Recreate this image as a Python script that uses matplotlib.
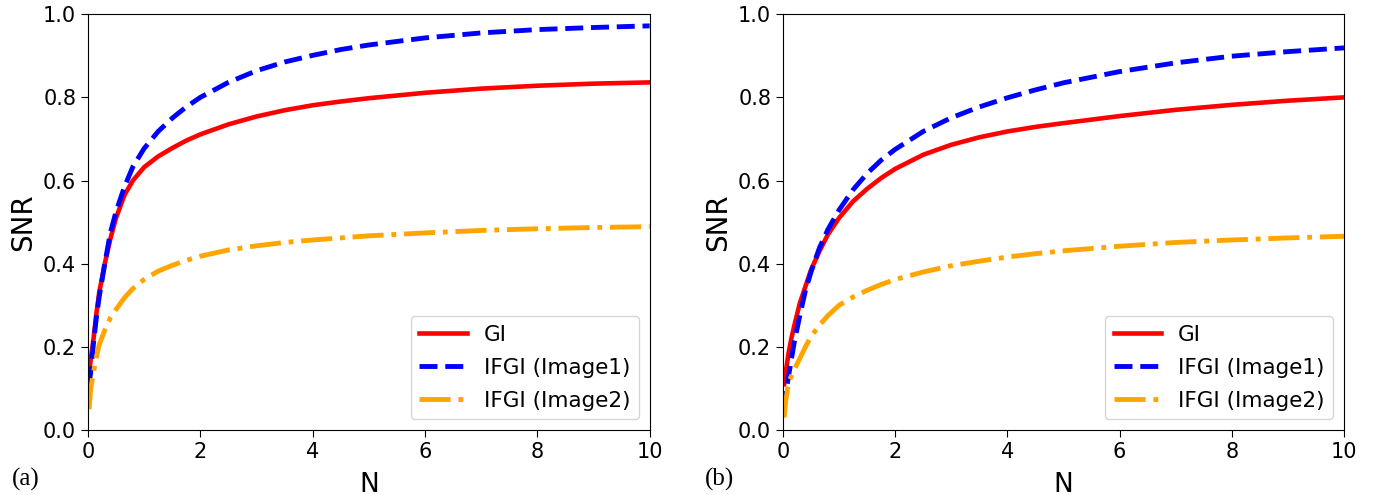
import matplotlib
matplotlib.use("Agg")
import matplotlib.pyplot as plt

# N grid
N = [0.02, 0.05, 0.1, 0.15, 0.2, 0.3, 0.4, 0.5, 0.65, 0.8, 1.0, 1.25, 1.5, 1.75,
     2.0, 2.5, 3.0, 3.5, 4.0, 4.5, 5.0, 6.0, 7.0, 8.0, 9.0, 10.0]

# panel (a)
a_gi = [0.14, 0.17, 0.22, 0.28, 0.33, 0.40, 0.46, 0.51, 0.565, 0.60, 0.632, 0.658, 0.678, 0.696,
        0.711, 0.735, 0.754, 0.769, 0.781, 0.790, 0.798, 0.811, 0.821, 0.828, 0.833, 0.836]
a_ifgi1 = [0.11, 0.14, 0.21, 0.27, 0.32, 0.40, 0.475, 0.525, 0.585, 0.633, 0.677, 0.718, 0.75, 0.777,
           0.800, 0.836, 0.864, 0.885, 0.901, 0.915, 0.926, 0.943, 0.955, 0.963, 0.968, 0.972]
a_ifgi2 = [0.05, 0.10, 0.14, 0.175, 0.205, 0.24, 0.27, 0.29, 0.318, 0.34, 0.362, 0.382, 0.396, 0.408,
           0.418, 0.433, 0.443, 0.451, 0.457, 0.462, 0.467, 0.474, 0.480, 0.484, 0.487, 0.489]

# panel (b)
b_gi = [0.11, 0.14, 0.185, 0.22, 0.25, 0.305, 0.345, 0.385, 0.43, 0.47, 0.51, 0.55, 0.58, 0.606,
        0.628, 0.662, 0.686, 0.704, 0.718, 0.729, 0.738, 0.755, 0.770, 0.782, 0.792, 0.800]
b_ifgi1 = [0.05, 0.09, 0.13, 0.17, 0.21, 0.275, 0.335, 0.38, 0.438, 0.482, 0.529, 0.578, 0.617, 0.649,
           0.675, 0.718, 0.751, 0.777, 0.799, 0.818, 0.835, 0.862, 0.883, 0.899, 0.910, 0.919]
b_ifgi2 = [0.03, 0.07, 0.115, 0.13, 0.145, 0.172, 0.20, 0.225, 0.252, 0.275, 0.30, 0.32, 0.336, 0.35,
           0.362, 0.38, 0.395, 0.406, 0.416, 0.424, 0.431, 0.442, 0.451, 0.457, 0.462, 0.466]

labels = ["GI", "IFGI (Image1)", "IFGI (Image2)"]
panel_tags = ["(a)", "(b)"]
xticks = [0, 2, 4, 6, 8, 10]
yticks = [0.0, 0.2, 0.4, 0.6, 0.8, 1.0]

fig = plt.figure(figsize=(13.87, 4.95), dpi=100)
ax1 = fig.add_axes([0.0634, 0.1313, 0.405, 0.840])
ax2 = fig.add_axes([0.5645, 0.1313, 0.4045, 0.840])

panels = [(ax1, (a_gi, a_ifgi1, a_ifgi2), panel_tags[0], -0.135),
          (ax2, (b_gi, b_ifgi1, b_ifgi2), panel_tags[1], -0.139)]

for ax, (gi, i1, i2), tag, tx in panels:
    ax.plot(N, gi, color="red", lw=3.3, ls="-", label=labels[0])
    ax.plot(N, i1, color="blue", lw=3.5, ls="--", label=labels[1])
    ax.plot(N, i2, color="orange", lw=3.5, ls="-.", label=labels[2])
    ax.set_xlim(0, 10)
    ax.set_ylim(0, 1.0)
    ax.set_xticks(xticks)
    ax.set_yticks(yticks)
    ax.set_yticklabels([f"{v:.1f}" for v in yticks])
    ax.tick_params(labelsize=15, length=5)
    ax.set_xlabel("N", fontsize=19)
    ax.set_ylabel("SNR", fontsize=20)
    ax.xaxis.set_label_coords(0.5, -0.1)
    ax.legend(loc="lower right", fontsize=15.5, handlelength=2.2,
              labelspacing=0.6, borderaxespad=0.5)
    ax.text(tx, -0.118, tag, transform=ax.transAxes,
            fontsize=18, family="Liberation Serif", ha="left", va="center")

fig.savefig("out.png", dpi=100)
